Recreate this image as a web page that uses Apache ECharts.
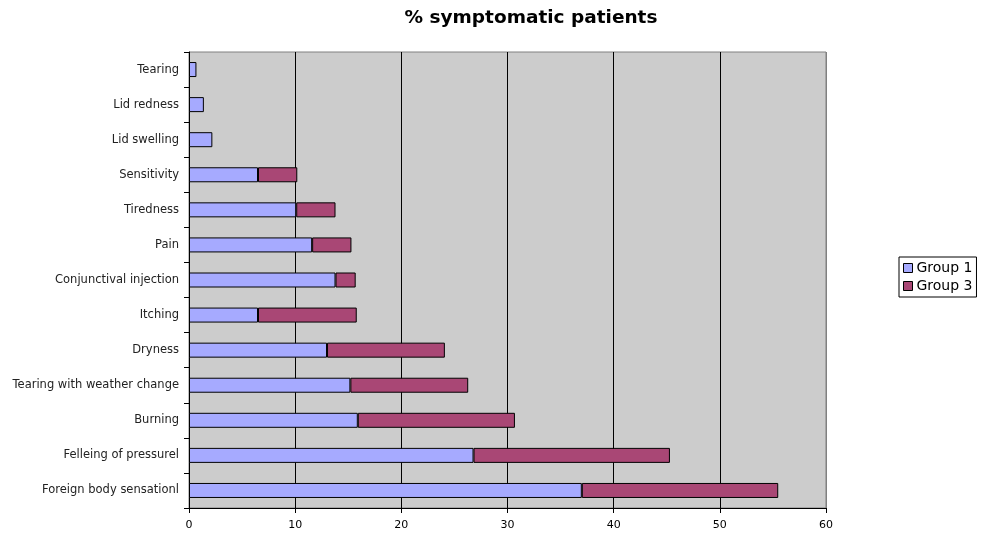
<!DOCTYPE html>
<html>
<head>
<meta charset="utf-8">
<script src="https://cdn.jsdelivr.net/npm/echarts@6/dist/echarts.min.js"></script>
<style>
  html, body { margin: 0; padding: 0; background: #fff; }
  #chart { width: 983px; height: 535px; }
</style>
</head>
<body>
<div id="chart"></div>
<script>
// Symptoms, listed top to bottom
const symptoms = [
  'Tearing', 'Lid redness', 'Lid swelling', 'Sensitivity', 'Tiredness', 'Pain',
  'Conjunctival injection', 'Itching', 'Dryness', 'Tearing with weather change',
  'Burning', 'Felleing of pressurel', 'Foreign body sensationl'
];
// % of symptomatic patients per group (stacked)
const group1 = [0.7, 1.4, 2.2, 6.5, 10.1, 11.6, 13.8, 6.5, 13.0, 15.2, 15.9, 26.8, 37.0];
const group3 = [null, null, null, 3.7, 3.7, 3.7, 1.9, 9.3, 11.1, 11.1, 14.8, 18.5, 18.5];
const xTicks = { min: 0, max: 60, interval: 10 };

const font = 'DejaVu Sans, Verdana, sans-serif';
const chart = echarts.init(document.getElementById('chart'));

chart.setOption({
  animation: false,
  backgroundColor: '#ffffff',
  textStyle: { fontFamily: font, color: '#000' },
  title: {
    text: '% symptomatic patients',
    left: 526, top: 4, textAlign: 'center',
    textStyle: { fontFamily: font, fontSize: 18.5, fontWeight: 'bold', color: '#000' }
  },
  legend: {
    orient: 'vertical',
    left: 899, top: 257,
    padding: [4, 4, 4, 4],
    itemGap: 4,
    itemWidth: 9, itemHeight: 9,
    borderColor: '#000', borderWidth: 1,
    backgroundColor: '#fff',
    icon: 'rect',
    itemStyle: { borderColor: '#000', borderWidth: 1 },
    textStyle: { fontFamily: font, fontSize: 14, color: '#000', padding: [0, 0, 0, -1] },
    data: ['Group 1', 'Group 3']
  },
  grid: {
    left: 189, right: 157, top: 52, bottom: 27,
    show: true, backgroundColor: '#cccccc', borderColor: '#808080', borderWidth: 1
  },
  xAxis: {
    type: 'value',
    min: xTicks.min, max: xTicks.max, interval: xTicks.interval,
    axisLine: { show: true, lineStyle: { color: '#000', width: 1 } },
    axisTick: { show: true, length: 5, lineStyle: { color: '#000' } },
    axisLabel: { fontFamily: font, fontSize: 11, color: '#000', margin: 12 },
    splitLine: {
      show: true,
      lineStyle: { color: ['#000', '#000', '#000', '#000', '#000', '#000', '#808080'], width: 1 }
    }
  },
  yAxis: {
    type: 'category',
    inverse: true,
    data: symptoms,
    axisLine: { show: true, lineStyle: { color: '#000', width: 1 } },
    axisTick: { show: true, length: 5, lineStyle: { color: '#000' } },
    axisLabel: { fontFamily: font, fontSize: 11.5, color: '#222', margin: 10 },
    splitLine: { show: false }
  },
  series: [
    {
      name: 'Group 1', type: 'bar', stack: 'total',
      data: group1, barWidth: 15,
      itemStyle: { color: '#a6aaff', borderColor: '#000', borderWidth: 1 }
    },
    {
      name: 'Group 3', type: 'bar', stack: 'total',
      data: group3, barWidth: 15,
      itemStyle: { color: '#a94775', borderColor: '#000', borderWidth: 1 }
    }
  ]
});
</script>
</body>
</html>
